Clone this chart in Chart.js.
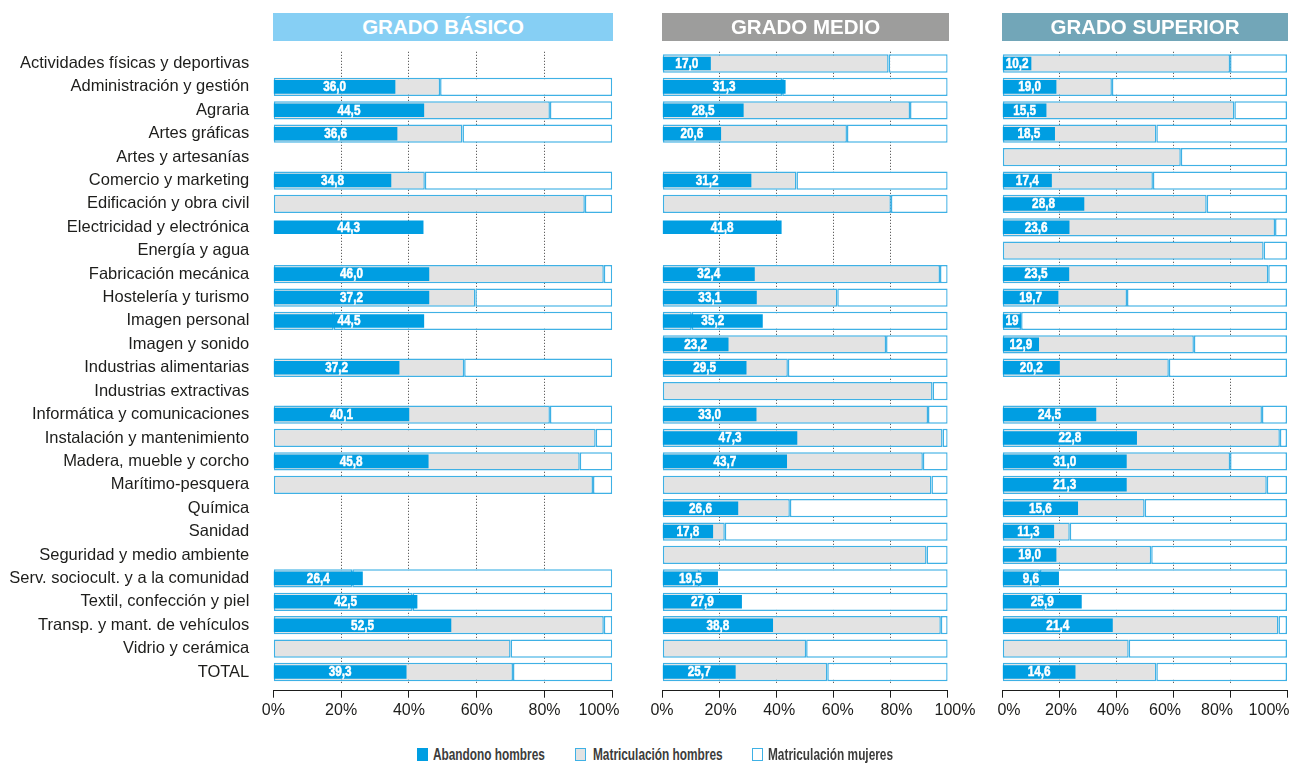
<!DOCTYPE html>
<html><head><meta charset="utf-8">
<script src="https://cdn.jsdelivr.net/npm/chart.js@4.4.1/dist/chart.umd.min.js"></script>
<style>
html,body{margin:0;padding:0;background:#fff;width:1289px;height:763px;overflow:hidden;position:relative;font-family:"Liberation Sans",Arial,sans-serif;}
.title{position:absolute;top:13px;height:28px;color:#fff;font-weight:bold;font-size:20.5px;line-height:28px;text-align:center;z-index:2;}
canvas{position:absolute;top:0;}
.lg-box{position:absolute;top:748px;width:11px;height:13px;box-sizing:border-box;}
.lg-txt{position:absolute;top:744px;font-family:"Liberation Sans",Arial,sans-serif;font-weight:bold;font-size:16px;line-height:22px;color:#3c3c3b;white-space:nowrap;transform:scaleX(0.74);transform-origin:0 50%;}
</style></head><body>
<div class="title" style="left:273px;width:340px;background:#86cff4;">GRADO BÁSICO</div>
<div class="title" style="left:662px;width:287px;background:#9d9d9c;">GRADO MEDIO</div>
<div class="title" style="left:1002px;width:286px;background:#72a6b8;">GRADO SUPERIOR</div>
<canvas id="c1" width="660" height="735" style="left:0px;"></canvas>
<canvas id="c2" width="360" height="735" style="left:640px;"></canvas>
<canvas id="c3" width="340" height="735" style="left:980px;"></canvas>
<div class="lg-box" style="left:417px;background:#009ee2;"></div>
<div class="lg-txt" style="left:433px;">Abandono hombres</div>
<div class="lg-box" style="left:575px;background:#e3e3e3;border:1.5px solid #3fb1e5;"></div>
<div class="lg-txt" style="left:593px;">Matriculación hombres</div>
<div class="lg-box" style="left:752px;background:#fff;border:1.5px solid #3fb1e5;"></div>
<div class="lg-txt" style="left:768px;">Matriculación mujeres</div>
<script>
const categories = [
  "Actividades físicas y deportivas","Administración y gestión","Agraria","Artes gráficas",
  "Artes y artesanías","Comercio y marketing","Edificación y obra civil","Electricidad y electrónica",
  "Energía y agua","Fabricación mecánica","Hostelería y turismo","Imagen personal","Imagen y sonido",
  "Industrias alimentarias","Industrias extractivas","Informática y comunicaciones",
  "Instalación y mantenimiento","Madera, mueble y corcho","Marítimo-pesquera","Química","Sanidad",
  "Seguridad y medio ambiente","Serv. sociocult. y a la comunidad","Textil, confección y piel",
  "Transp. y mant. de vehículos","Vidrio y cerámica","TOTAL"
];
const tickValues = [0, 20, 40, 60, 80, 100];
const tickLabels = ["0%", "20%", "40%", "60%", "80%", "100%"];
// the printed "100%" of the first panel sits left of its tick
const tickLabelsBasico = ["0%", "20%", "40%", "60%", "80%", "100%      "];

// GRADO BÁSICO
const basicoAbandono = [null,36.0,44.5,36.6,null,34.8,null,44.3,null,46.0,46.0,44.5,null,37.2,null,40.1,null,45.8,null,null,null,null,26.4,42.5,52.5,null,39.3];
const basicoEtiquetas = [null,"36,0","44,5","36,6",null,"34,8",null,"44,3",null,"46,0","37,2","44,5",null,"37,2",null,"40,1",null,"45,8",null,null,null,null,"26,4","42,5","52,5",null,"39,3"];
const basicoHombres = [null,49.2,81.6,55.8,null,44.7,91.9,null,null,97.5,59.6,17.8,null,56.3,null,81.6,95.1,90.4,94.3,null,null,null,23.3,41.1,97.5,70.0,70.7];
const basicoMujeres = [null,50.8,18.4,44.2,null,55.3,8.1,null,null,2.5,40.4,82.2,null,43.7,null,18.4,4.9,9.6,5.7,null,null,null,76.7,58.9,2.5,30.0,29.3];

// GRADO MEDIO
const medioAbandono = [17.0,43.2,28.5,20.6,null,31.2,null,41.8,null,32.4,33.1,35.2,23.2,29.5,null,33.0,47.3,43.7,null,26.6,17.8,null,19.5,27.9,38.8,null,25.7];
const medioEtiquetas = ["17,0","31,3","28,5","20,6",null,"31,2",null,"41,8",null,"32,4","33,1","35,2","23,2","29,5",null,"33,0","47,3","43,7",null,"26,6","17,8",null,"19,5","27,9","38,8",null,"25,7"];
const medioHombres = [79.3,42.0,86.8,64.7,null,47.0,80.1,null,null,97.3,61.3,10.3,78.4,44.0,94.7,93.1,98.2,91.3,94.3,44.7,21.9,92.6,12.9,14.6,97.6,50.4,57.8];
const medioMujeres = [20.7,58.0,13.2,35.3,null,53.0,19.9,null,null,2.7,38.7,89.7,21.6,56.0,5.3,6.9,1.8,8.7,5.7,55.3,78.1,7.4,87.1,85.4,2.4,49.6,42.2];

// GRADO SUPERIOR
const superiorAbandono = [10.2,19.0,15.5,18.5,null,17.4,28.8,23.6,null,23.5,19.7,6.6,12.9,20.2,null,33.0,47.3,43.7,43.7,26.6,18.2,19.0,19.9,27.9,38.8,null,25.7];
const superiorEtiquetas = ["10,2","19,0","15,5","18,5",null,"17,4","28,8","23,6",null,"23,5","19,7","19","12,9","20,2",null,"24,5","22,8","31,0","21,3","15,6","11,3","19,0","9,6","25,9","21,4",null,"14,6"];
const superiorHombres = [80.0,38.5,81.5,54.1,62.7,52.9,71.8,95.8,91.8,93.4,43.8,6.6,67.3,58.5,null,91.2,97.5,80.0,92.9,50.0,23.7,52.3,13.2,14.6,97.0,44.4,54.1];
const superiorMujeres = [20.0,61.5,18.5,45.9,37.3,47.1,28.2,4.2,8.2,6.6,56.2,93.4,32.7,41.5,null,8.8,2.5,20.0,7.1,50.0,76.3,47.7,86.8,85.4,3.0,55.6,45.9];

const BLUE = '#009ee2';
const GREY = '#e3e3e3';
const FRAME = '#3fb1e5';
const INK = '#1d1d1b';
const FONT = '"Liberation Sans", Arial, sans-serif';

function makePanel(id, abandono, etiquetas, hombres, mujeres, opts) {
  const labelPlugin = {
    id: 'barLabels' + id,
    afterDatasetsDraw(chart) {
      const c = chart.ctx;
      const meta = chart.getDatasetMeta(0);
      meta.data.forEach((bar, i) => {
        const t = etiquetas[i];
        if (t == null || abandono[i] == null) return;
        c.save();
        c.font = 'bold 14px ' + FONT;
        c.fillStyle = '#ffffff';
        c.strokeStyle = '#ffffff';
        c.lineWidth = 0.5;
        c.textAlign = 'center';
        c.textBaseline = 'middle';
        c.translate((bar.x + bar.base) / 2, bar.y + 0.5);
        c.scale(0.84, 1);
        c.fillText(t, 0, 0);
        c.strokeText(t, 0, 0);
        c.restore();
      });
    }
  };
  const forceTicks = s => { s.ticks = tickValues.map(v => ({value: v})); };
  return new Chart(document.getElementById(id), {
    type: 'bar',
    data: {
      labels: categories,
      datasets: [
        {label: 'Abandono hombres', data: abandono, backgroundColor: BLUE, borderWidth: 0,
         barPercentage: 0.58, categoryPercentage: 1, stack: 'a', grouped: false},
        {label: 'Matriculación hombres', data: hombres, backgroundColor: GREY, borderColor: FRAME,
         borderWidth: 1.5, borderSkipped: false, barPercentage: 0.78, categoryPercentage: 1, stack: 'm', grouped: false},
        {label: 'Matriculación mujeres', data: mujeres, backgroundColor: '#ffffff', borderColor: FRAME,
         borderWidth: 1.5, borderSkipped: false, barPercentage: 0.78, categoryPercentage: 1, stack: 'm', grouped: false}
      ]
    },
    options: {
      indexAxis: 'y',
      responsive: false,
      animation: false,
      events: [],
      layout: {padding: {top: 51.8, bottom: 10.7, left: opts.padLeft, right: opts.padRight}},
      plugins: {legend: {display: false}, tooltip: {enabled: false}},
      scales: {
        // value scale: dotted grid on top of the bars
        x: {
          type: 'linear', position: 'bottom', weight: 0, stacked: true, min: 0, max: 100, z: 1,
          afterBuildTicks: forceTicks,
          ticks: {display: false},
          grid: {
            drawOnChartArea: true, drawTicks: true, tickLength: 7, tickColor: 'rgba(0,0,0,0)',
            color: c => (c.tick && c.tick.value > 0 && c.tick.value < 100) ? '#3a3a3a' : 'rgba(0,0,0,0)',
            lineWidth: 1
          },
          border: {display: false, dash: [1, 2]}
        },
        // axis line with tick marks, a little below the bars
        xAxisLine: {
          type: 'linear', position: 'bottom', weight: 1, min: 0, max: 100,
          afterBuildTicks: forceTicks,
          ticks: {display: false},
          grid: {drawOnChartArea: false, drawTicks: true, tickLength: 7, tickColor: INK, lineWidth: 1},
          border: {display: true, color: INK, width: 1}
        },
        // printed tick labels
        xLabels: {
          type: 'linear', position: 'bottom', weight: 2, min: opts.labMin, max: opts.labMax,
          afterBuildTicks: forceTicks,
          ticks: {
            callback: (v, i) => opts.labels[i],
            font: {family: FONT, size: 16}, color: INK, padding: 3.7, maxRotation: 0, autoSkip: false
          },
          grid: {display: false, drawOnChartArea: false, drawTicks: false},
          border: {display: false}
        },
        y: {
          type: 'category', display: opts.showLabels,
          afterFit: s => { if (opts.showLabels) s.width = opts.yWidth; },
          grid: {display: false, drawTicks: false},
          border: {display: false},
          ticks: {font: {family: FONT, size: 16.5}, color: INK, padding: 24, autoSkip: false}
        }
      }
    },
    plugins: [labelPlugin]
  });
}

makePanel('c1', basicoAbandono, basicoEtiquetas, basicoHombres, basicoMujeres,
  {padLeft: 0, padRight: 47.7, showLabels: true, yWidth: 273.3, labMin: 0, labMax: 100, labels: tickLabelsBasico});
makePanel('c2', medioAbandono, medioEtiquetas, medioHombres, medioMujeres,
  {padLeft: 22.3, padRight: 52.3, showLabels: false, labMin: 0.1, labMax: 97.5, labels: tickLabels});
makePanel('c3', superiorAbandono, superiorEtiquetas, superiorHombres, superiorMujeres,
  {padLeft: 22.3, padRight: 33, showLabels: false, labMin: -2.58, labMax: 106.9, labels: tickLabels});
</script>
</body></html>
